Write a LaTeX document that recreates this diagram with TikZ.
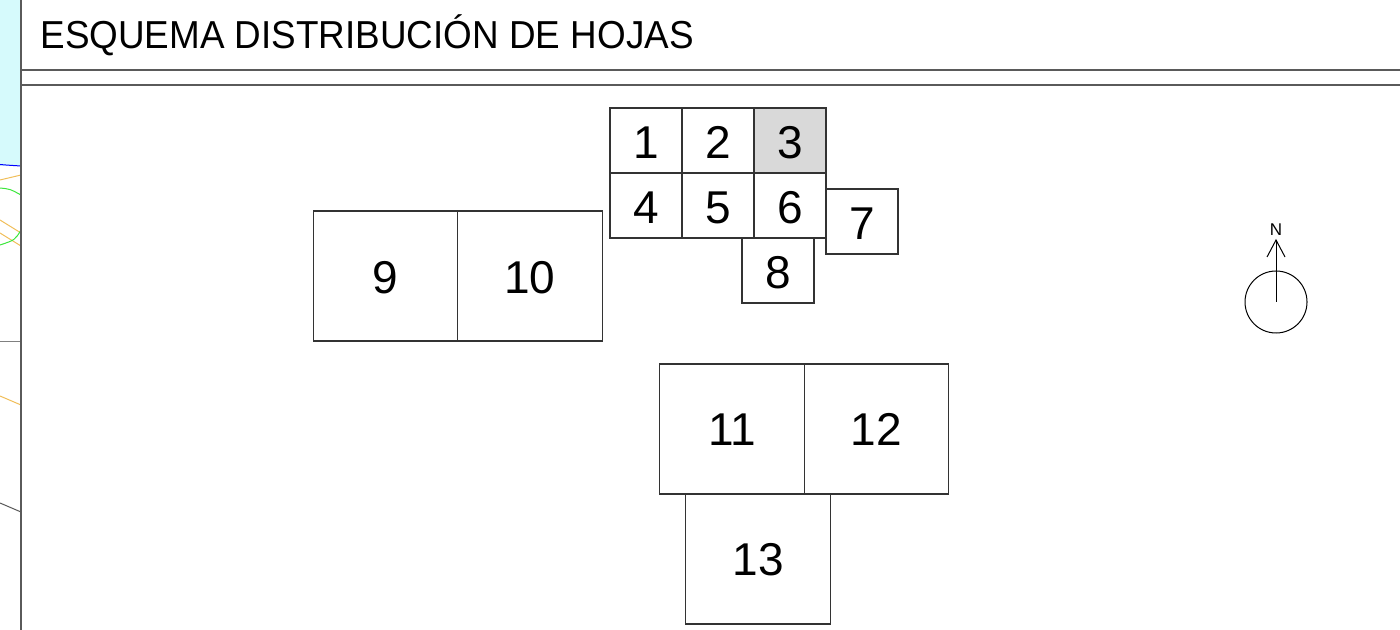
\documentclass[tikz,border=0pt]{standalone}
\usepackage{fontspec}
\setmainfont{Liberation Sans}
\usepackage{tikz}
\usetikzlibrary{positioning,arrows.meta}
\definecolor{sheetgray}{RGB}{217,217,217}
\definecolor{framegray}{RGB}{90,90,90}
\definecolor{mapcyan}{RGB}{214,250,252}
\definecolor{maporange}{RGB}{240,190,90}
\definecolor{mapgreen}{RGB}{60,230,60}
\tikzstyle{sheet} = [draw=black!80, line width=0.6pt, rectangle, outer sep=0pt, inner sep=0pt, minimum width=36pt, minimum height=32.5pt, text height=18.5pt, font=\fontsize{23}{23}\selectfont]
\tikzstyle{bigsheet} = [sheet, minimum width=72.2pt, minimum height=65pt, text height=16.5pt]
\tikzstyle{frame} = [framegray, line width=0.6pt]

\begin{document}
\begin{tikzpicture}[x=0.5pt, y=-0.5pt, line width=0.5pt]
    \useasboundingbox (0,0) rectangle (1400,630);
    % plano de fondo a la izquierda
    \begin{scope}
      \clip (0,0) rectangle (21,630);
      \fill [mapcyan] (0,0) rectangle (21,166);
      \draw [blue] (-5,164) .. controls (5,165) .. (21,166);
      \draw [maporange] (0,180) -- (21,175);
      \draw [mapgreen] (0,188) .. controls (10,189) .. (21,195);
      \draw [maporange] (0,220) -- (21,233);
      \draw [maporange] (0,233) -- (21,246);
      \draw [mapgreen] (0,245) .. controls (15,240) .. (21,230);
      \draw [gray] (0,341) -- (21,341);
      \draw [maporange] (0,396) -- (21,405);
      \draw [framegray] (0,503) -- (21,512);
    \end{scope}
    \draw [frame] (21,0) -- (21,630);
    % cabecera
    \node [anchor=base west, inner sep=0pt, xscale=0.945, font=\fontsize{19.5}{19.5}\selectfont] (title) at (40,49) {ESQUEMA DISTRIBUCIÓN DE HOJAS};
    \draw [frame, line width=0.9pt] (21,70) -- (1400,70);
    \draw [frame] (21,85) -- (1400,85);
    % hojas pequenas
    \node [sheet] (h1) at (646,140.5) {1};
    \node [sheet, right=0pt of h1] (h2) {2};
    \node [sheet, fill=sheetgray, right=0pt of h2] (h3) {3};
    \node [sheet, below=0pt of h1] (h4) {4};
    \node [sheet, right=0pt of h4] (h5) {5};
    \node [sheet, right=0pt of h5] (h6) {6};
    \node [sheet] (h7) at (862,221.5) {7};
    \node [sheet] (h8) at (778,270.5) {8};
    % hojas grandes
    \node [bigsheet, text height=18pt] (h9) at (385.5,276) {9};
    \node [bigsheet, text height=18pt, right=0pt of h9] (h10) {10};
    \node [bigsheet] (h11) at (732,429) {11};
    \node [bigsheet, right=0pt of h11] (h12) {12};
    \node [bigsheet] (h13) at (758,559) {13};
    % norte
    \node [draw, circle, inner sep=0pt, minimum size=31pt] (compass) at (1276,302) {};
    \coordinate (tip) at (1276,240);
    \coordinate (barbL) at (1267,257);
    \coordinate (barbR) at (1285,257);
    \draw (compass.center) -- (tip);
    \draw (barbL) -- (tip) -- (barbR);
    \node [above=2pt of tip, inner sep=0pt, font=\fontsize{8.5}{8.5}\selectfont] (north) {N};
\end{tikzpicture}
\end{document}
